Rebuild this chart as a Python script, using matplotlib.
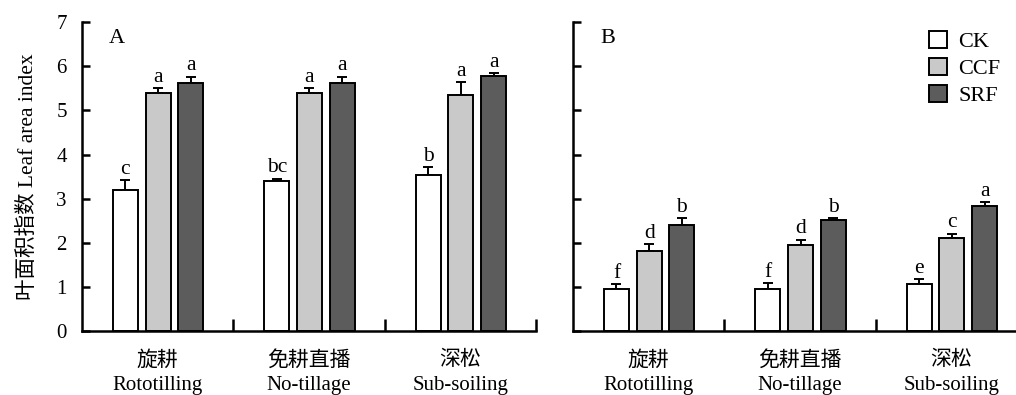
import numpy as np
import matplotlib
matplotlib.use('Agg')
from matplotlib import pyplot as plt

plt.rcParams['font.family'] = ['Liberation Serif', 'Noto Sans CJK SC']
plt.rcParams['font.size'] = 15

groups = ['旋耕\nRototilling', '免耕直播\nNo-tillage', '深松\nSub-soiling']
series = ['CK', 'CCF', 'SRF']
colors = ['#ffffff', '#c9c9c9', '#5c5c5c']

# panel A values and upper error bar sizes
valA = {'CK': [3.19, 3.40, 3.54], 'CCF': [5.40, 5.40, 5.35], 'SRF': [5.61, 5.61, 5.78]}
errA = {'CK': [0.24, 0.06, 0.17], 'CCF': [0.10, 0.10, 0.29], 'SRF': [0.15, 0.15, 0.07]}
letA = {'CK': ['c', 'bc', 'b'], 'CCF': ['a', 'a', 'a'], 'SRF': ['a', 'a', 'a']}

# panel B
valB = {'CK': [0.95, 0.95, 1.07], 'CCF': [1.82, 1.96, 2.12], 'SRF': [2.41, 2.52, 2.84]}
errB = {'CK': [0.12, 0.15, 0.12], 'CCF': [0.15, 0.12, 0.09], 'SRF': [0.15, 0.05, 0.09]}
letB = {'CK': ['f', 'f', 'e'], 'CCF': ['d', 'd', 'c'], 'SRF': ['b', 'b', 'a']}

fig = plt.figure(figsize=(10.16, 3.95), dpi=100)
axA = fig.add_axes([0.0807, 0.1608, 0.4469, 0.7835])
axB = fig.add_axes([0.5640, 0.1608, 0.4469, 0.7835])

offsets = [-0.213, 0.003, 0.219]
width = 0.166
x = np.arange(3) + 0.5


def draw(ax, vals, errs, lets, tag, showy):
    for i, s in enumerate(series):
        xs = x + offsets[i]
        ax.bar(xs, vals[s], width, color=colors[i], edgecolor='black',
               linewidth=1.4, label=s, zorder=2)
        ax.errorbar(xs, vals[s], yerr=[np.zeros(3), errs[s]], fmt='none',
                    ecolor='black', elinewidth=1.4, capsize=3.4, capthick=1.4, zorder=1)
        for j in range(3):
            ax.text(xs[j], vals[s][j] + errs[s][j] + 0.03, lets[s][j],
                    ha='center', va='bottom', fontsize=15.5)
    ax.set_xlim(0, 3)
    ax.set_ylim(0, 7)
    ax.set_yticks(range(8))
    if not showy:
        ax.set_yticklabels([])
    ax.set_xticks([1, 2, 3])
    ax.set_xticklabels([])
    ax.set_xticks(x, minor=True)
    ax.set_xticklabels(groups, minor=True, linespacing=1.4)
    ax.tick_params(axis='x', which='minor', length=0, pad=14)
    ax.tick_params(axis='x', which='major', direction='in', length=9, width=1.8)
    ax.tick_params(axis='y', direction='in', length=6, width=1.8, pad=11)
    for sp in ['top', 'right']:
        ax.spines[sp].set_visible(False)
    for sp in ['left', 'bottom']:
        ax.spines[sp].set_linewidth(1.8)
    ax.text(0.23, 6.62, tag, fontsize=16, ha='center', va='center')


draw(axA, valA, errA, letA, 'A', True)
draw(axB, valB, errB, letB, 'B', False)
axA.set_ylabel('叶面积指数 Leaf area index', fontsize=15.5, labelpad=13)

leg = axB.legend(loc='upper right', bbox_to_anchor=(0.985, 1.035), frameon=False,
                 handlelength=0.8, handleheight=0.8, handletextpad=0.5,
                 labelspacing=0.25, fontsize=16)

fig.savefig('out.png', dpi=100)
